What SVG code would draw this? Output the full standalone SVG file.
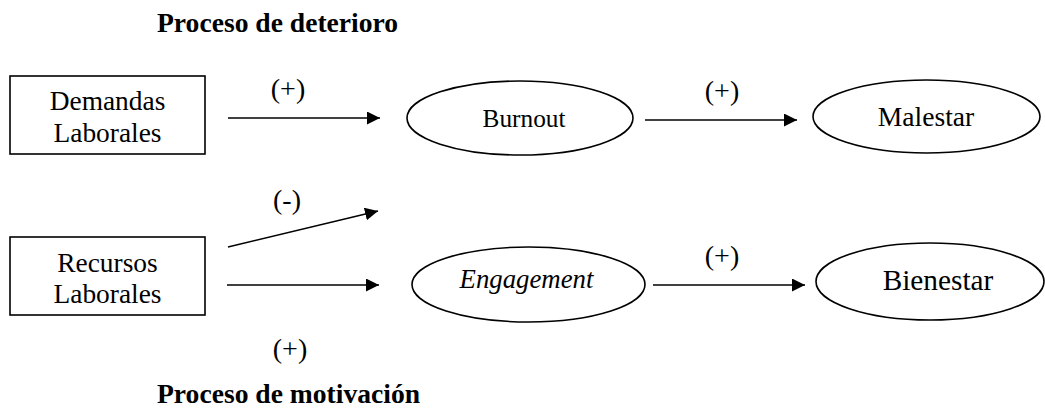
<svg xmlns="http://www.w3.org/2000/svg" width="1045" height="412" viewBox="0 0 1045 412">
  <style>
    text { font-family: "Liberation Serif", "Times New Roman", serif; fill: #000; text-anchor: middle; }
    .title { font-weight: bold; font-size: 27.6px; text-anchor: start; }
    .lbl { font-size: 28px; }
    .node { font-size: 27.4px; }
    .shape { fill: #fff; stroke: #000; stroke-width: 1.6; }
    .conn { stroke: #000; stroke-width: 1.6; fill: none; marker-end: url(#arr); }
  </style>
  <defs>
    <marker id="arr" markerUnits="userSpaceOnUse" markerWidth="14" markerHeight="14" refX="13" refY="6.5" orient="auto">
      <path d="M0,0 L13,6.5 L0,13 z" fill="#000"/>
    </marker>
  </defs>
  <rect width="1045" height="412" fill="#fff"/>

  <text class="title" x="157" y="32">Proceso de deterioro</text>
  <text class="title" x="157" y="403">Proceso de motivación</text>

  <g id="demandas">
    <rect class="shape" x="10" y="76" width="195" height="78"/>
    <text class="node" x="107.5" y="110">Demandas</text>
    <text class="node" x="107.5" y="142">Laborales</text>
  </g>
  <g id="recursos">
    <rect class="shape" x="10" y="237" width="195" height="78"/>
    <text class="node" x="107.5" y="272">Recursos</text>
    <text class="node" x="107.5" y="303">Laborales</text>
  </g>
  <g id="burnout">
    <ellipse class="shape" cx="520" cy="118" rx="113" ry="37"/>
    <text class="node" x="524" y="127" style="font-size:25.3px">Burnout</text>
  </g>
  <g id="malestar">
    <ellipse class="shape" cx="926.5" cy="116.5" rx="113.5" ry="36.5"/>
    <text class="node" x="926" y="126" style="font-size:27.6px">Malestar</text>
  </g>
  <g id="engagement">
    <ellipse class="shape" cx="528.5" cy="284.5" rx="116.5" ry="37.5"/>
    <text class="node" x="526.5" y="288" style="font-style:italic;font-size:26.8px">Engagement</text>
  </g>
  <g id="bienestar">
    <ellipse class="shape" cx="930" cy="281.5" rx="114" ry="38.5"/>
    <text class="node" x="938" y="290" style="font-size:29.3px">Bienestar</text>
  </g>

  <g id="connectors">
    <line class="conn" x1="228" y1="118" x2="380" y2="118"/>
    <line class="conn" x1="645" y1="120" x2="797" y2="120"/>
    <line class="conn" x1="228" y1="247" x2="378" y2="211"/>
    <line class="conn" x1="227" y1="285" x2="379" y2="285"/>
    <line class="conn" x1="653" y1="285" x2="805" y2="285"/>
  </g>

  <g id="labels">
    <text class="lbl" x="288" y="98">(+)</text>
    <text class="lbl" x="722" y="100">(+)</text>
    <text class="lbl" x="287" y="209">(-)</text>
    <text class="lbl" x="722" y="265">(+)</text>
    <text class="lbl" x="290" y="358">(+)</text>
  </g>
</svg>
